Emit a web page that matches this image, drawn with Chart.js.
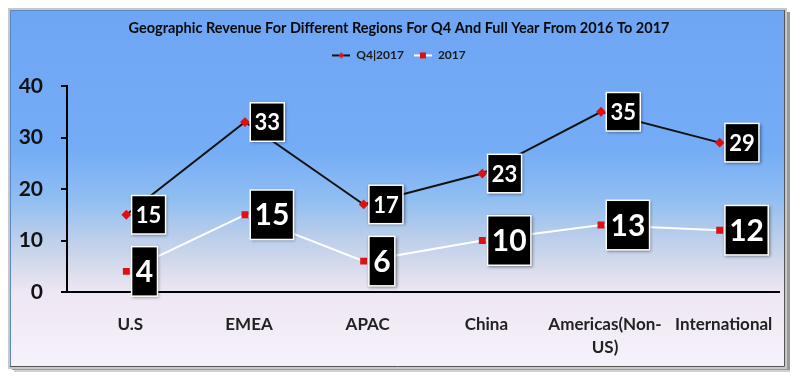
<!DOCTYPE html>
<html>
<head>
<meta charset="utf-8">
<script src="https://cdn.jsdelivr.net/npm/chart.js@4.4.1/dist/chart.umd.min.js"></script>
<style>
  html, body { margin: 0; padding: 0; background: #ffffff; }
  #wrap { width: 800px; height: 383px; }
</style>
</head>
<body>
<div id="wrap"><canvas id="c" width="800" height="383"></canvas></div>
<script>
const categories = ['U.S', 'EMEA', 'APAC', 'China', ['Americas(Non-', 'US)'], 'International'];
const q4Values = [15, 33, 17, 23, 35, 29];
const fyValues = [4, 15, 6, 10, 13, 12];
const seriesNames = ['Q4|2017', '2017'];
const titleText = 'Geographic Revenue For Different Regions For Q4 And Full Year From 2016 To 2017';
const FONT = 'Lato, "Open Sans", sans-serif';

function legendSymbol(lineColor, shape) {
  const c = document.createElement('canvas');
  c.width = 18; c.height = 8;
  const g = c.getContext('2d');
  g.strokeStyle = lineColor; g.lineWidth = 2;
  g.beginPath(); g.moveTo(0, 4); g.lineTo(18, 4); g.stroke();
  g.fillStyle = '#e01010';
  if (shape === 'diamond') {
    g.beginPath(); g.moveTo(9, 1); g.lineTo(12, 4); g.lineTo(9, 7); g.lineTo(6, 4); g.closePath(); g.fill();
  } else {
    g.fillRect(6, 1, 6, 6);
  }
  return c;
}

const framePlugin = {
  id: 'frame',
  beforeDraw(chart) {
    const ctx = chart.ctx;
    ctx.save();
    ctx.fillStyle = '#ffffff';
    ctx.fillRect(0, 0, 800, 383);
    ctx.fillStyle = '#9a9a9a';
    ctx.fillRect(12, 12, 778, 358);
    ctx.fillStyle = '#d0d0d0';
    ctx.fillRect(14, 370, 776, 2);
    ctx.fillStyle = '#c8c8c8';
    ctx.fillRect(8, 8, 779, 361);
    const x0 = 10, y0 = 10, x1 = 785, y1 = 367;
    const g = ctx.createLinearGradient(0, y0, 0, y1);
    g.addColorStop(0.00, '#6ea6f5');
    g.addColorStop(0.39, '#74acf6');
    g.addColorStop(0.53, '#90bef2');
    g.addColorStop(0.63, '#b8cdeb');
    g.addColorStop(0.72, '#d6dbec');
    g.addColorStop(0.79, '#eee6f3');
    g.addColorStop(1.00, '#f6f2fa');
    ctx.fillStyle = g;
    ctx.fillRect(x0, y0, x1 - x0, y1 - y0);
    ctx.strokeStyle = '#5b86c6';
    ctx.lineWidth = 1;
    ctx.beginPath();
    ctx.moveTo(x0 + 0.5, y1); ctx.lineTo(x0 + 0.5, y0 + 0.5); ctx.lineTo(x1, y0 + 0.5);
    ctx.stroke();
    ctx.strokeStyle = '#555555';
    ctx.beginPath();
    ctx.moveTo(x1 - 0.5, y0); ctx.lineTo(x1 - 0.5, y1 - 0.5); ctx.lineTo(x0, y1 - 0.5);
    ctx.stroke();
    ctx.restore();
  }
};

const labelPlugin = {
  id: 'boxLabels',
  afterDatasetsDraw(chart) {
    const ctx = chart.ctx;
    const styles = [
      { size: 22, h: 37 },
      { size: 30, h: 48 }
    ];
    chart.data.datasets.forEach((ds, di) => {
      const meta = chart.getDatasetMeta(di);
      const st = styles[di];
      meta.data.forEach((pt, i) => {
        const txt = String(ds.data[i]);
        ctx.save();
        ctx.font = 'bold ' + st.size + 'px ' + FONT;
        const tw = ctx.measureText(txt).width;
        const w = tw + 7;
        const bx = pt.x + 6;
        const by = pt.y - st.h / 2;
        ctx.shadowColor = 'rgba(0,0,0,0.45)';
        ctx.shadowBlur = 3;
        ctx.shadowOffsetX = 1;
        ctx.shadowOffsetY = 1;
        ctx.fillStyle = '#ffffff';
        ctx.fillRect(bx - 1.5, by - 1.5, w + 3, st.h + 3);
        ctx.shadowColor = 'transparent';
        ctx.fillStyle = '#000000';
        ctx.fillRect(bx, by, w, st.h);
        ctx.fillStyle = '#ffffff';
        ctx.textAlign = 'center';
        ctx.textBaseline = 'middle';
        ctx.fillText(txt, bx + w / 2, pt.y + 1);
        ctx.restore();
      });
    });
  }
};

new Chart(document.getElementById('c'), {
  type: 'line',
  data: {
    labels: categories,
    datasets: [
      {
        label: seriesNames[0],
        data: q4Values,
        borderColor: '#111111',
        borderWidth: 2,
        pointStyle: 'rectRot',
        pointRadius: 3.5,
        pointBackgroundColor: '#e01010',
        pointBorderColor: '#e01010',
        tension: 0
      },
      {
        label: seriesNames[1],
        data: fyValues,
        borderColor: '#ffffff',
        borderWidth: 2,
        pointStyle: 'rect',
        pointRadius: 3.5,
        pointBackgroundColor: '#e01010',
        pointBorderColor: '#e01010',
        tension: 0
      }
    ]
  },
  options: {
    responsive: false,
    animation: false,
    devicePixelRatio: 1,
    layout: { padding: { left: 19, right: 21, top: 10, bottom: 25 } },
    plugins: {
      title: {
        display: true,
        text: titleText,
        color: '#0a0a0a',
        font: { family: FONT, size: 14.5, weight: 'bold', lineHeight: 1.2 },
        padding: { top: 10, bottom: 2 }
      },
      subtitle: {
        display: true,
        text: '',
        weight: 900,
        font: { size: 10, lineHeight: 1 },
        padding: { top: 0, bottom: 4.6 }
      },
      legend: {
        display: true,
        labels: {
          color: '#1a1a1a',
          font: { family: FONT, size: 12, weight: 'bold' },
          usePointStyle: true,
          pointStyleWidth: 18,
          padding: 10,
          generateLabels(chart) {
            return [
              { text: seriesNames[0], pointStyle: legendSymbol('#111111', 'diamond'), fillStyle: 'transparent', strokeStyle: 'transparent', lineWidth: 0, datasetIndex: 0, fontColor: '#1a1a1a' },
              { text: seriesNames[1], pointStyle: legendSymbol('#ffffff', 'square'), fillStyle: 'transparent', strokeStyle: 'transparent', lineWidth: 0, datasetIndex: 1, fontColor: '#1a1a1a' }
            ];
          }
        }
      },
      tooltip: { enabled: false }
    },
    scales: {
      x: {
        offset: true,
        grid: { display: false, drawTicks: false },
        border: { display: true, color: '#000000', width: 2 },
        ticks: {
          color: '#222222',
          font: { family: FONT, size: 17, weight: 'bold', lineHeight: 1.35 },
          padding: 21,
          labelOffset: 4,
          maxRotation: 0,
          autoSkip: false
        },
        afterFit(scale) { scale.height = 66; }
      },
      y: {
        min: 0,
        max: 40,
        ticks: {
          stepSize: 10,
          color: '#111111',
          font: { family: FONT, size: 21, weight: 'bold' },
          padding: 18
        },
        grid: { drawOnChartArea: false, drawTicks: true, tickLength: 6, color: '#000000', lineWidth: 2 },
        border: { display: true, color: '#000000', width: 2 },
        afterFit(scale) { scale.width = 48; }
      }
    }
  },
  plugins: [framePlugin, labelPlugin]
});
</script>
</body>
</html>
